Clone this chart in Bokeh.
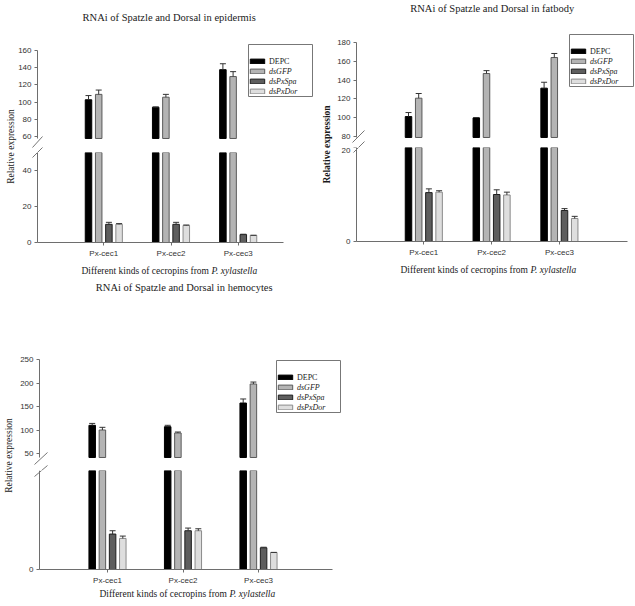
import math
from bokeh.plotting import figure
from bokeh.layouts import row, column
from bokeh.models import (ColumnDataSource, Range1d, FixedTicker, Label, Legend,
                          LegendItem, Arrow, LinearAxis, CDSView, BooleanFilter,
                          BoxAnnotation)
from bokeh.transform import dodge
from bokeh.embed import file_html
from bokeh.resources import INLINE

# ---------------- data ----------------
categories = ["Px-cec1", "Px-cec2", "Px-cec3"]
category_pos = [1, 2, 3]
series_labels = ["DEPC", "dsGFP", "dsPxSpa", "dsPxDor"]

epidermis_depc = [102.7, 94.0, 137.7]
epidermis_depc_err = [4.9, 0.4, 6.9]
epidermis_gfp = [109.0, 105.7, 129.7]
epidermis_gfp_err = [5.0, 3.3, 5.7]
epidermis_spa = [10.1, 10.1, 4.4]
epidermis_spa_err = [1.1, 1.1, 0.2]
epidermis_dor = [10.1, 9.5, 4.0]
epidermis_dor_err = [0.4, 0.2, 0.0]

fatbody_depc = [101.0, 99.6, 131.3]
fatbody_depc_err = [4.3, 0.4, 6.3]
fatbody_gfp = [120.6, 146.9, 164.0]
fatbody_gfp_err = [5.0, 3.1, 4.3]
fatbody_spa = [10.4, 10.0, 6.6]
fatbody_spa_err = [0.8, 1.0, 0.4]
fatbody_dor = [10.5, 9.9, 4.9]
fatbody_dor_err = [0.3, 0.6, 0.45]

hemocytes_depc = [110.0, 107.0, 157.4]
hemocytes_depc_err = [4.0, 3.0, 8.6]
hemocytes_gfp = [100.0, 93.6, 197.9]
hemocytes_gfp_err = [5.7, 2.1, 4.1]
hemocytes_spa = [7.16, 7.83, 4.39]
hemocytes_spa_err = [0.67, 0.54, 0.11]
hemocytes_dor = [6.28, 7.83, 3.45]
hemocytes_dor_err = [0.47, 0.40, 0.0]

epidermis_upper_ticks = [60, 80, 100, 120, 140, 160]
epidermis_lower_ticks = [0, 20, 40]
fatbody_upper_ticks = [80, 100, 120, 140, 160, 180]
fatbody_lower_ticks = [0, 20]
hemocytes_upper_ticks = [50, 100, 150, 200, 250]
hemocytes_lower_ticks = [0]

# ---------------- style ----------------
FILLS = ["#000000", "#b4b4b4", "#5e5e5e", "#dedede"]
LINES = ["#000000", "#5a5a5a", "#1e1e1e", "#8a8a8a"]
AXIS_COLOR = "#6e6e6e"
TEXT_COLOR = "#1a1a1a"
SERIF = "Liberation Serif"
SANS = "Liberation Sans"
BAR_PITCH_PX = 10.2
BAR_W_PX = 6.5
LEG_ROW = 10
LEG_PAD = 6
LEG_W = 64


def style_axis(ax):
    ax.axis_line_color = AXIS_COLOR
    ax.major_tick_line_color = AXIS_COLOR
    ax.major_tick_out = 3
    ax.major_tick_in = 0
    ax.minor_tick_line_color = None
    ax.major_label_text_font = SANS
    ax.major_label_text_font_size = "8px"
    ax.major_label_text_color = "#333333"
    ax.major_label_standoff = 3


def bare_fig(w, h, xr, yr):
    p = figure(width=w, height=h, x_range=xr, y_range=yr, title=None,
               toolbar_location=None, output_backend="svg",
               x_axis_location=None, y_axis_location=None, min_border=0,
               outline_line_color=None, background_fill_color="white",
               border_fill_color="white")
    p.grid.visible = False
    return p


def value_range(ref, page_lo, page_hi):
    (va, pa), (vb, pb) = ref
    s = (pa - pb) / (vb - va)
    return va + (pa - page_lo) / s, va + (pa - page_hi) / s


def make_panel(title, vals, errs, ticks_up, ticks_low, c):
    data = {"x": category_pos}
    for i in range(4):
        data["s%d" % i] = vals[i]
        data["s%d_hi" % i] = [v + e for v, e in zip(vals[i], errs[i])]
    src = ColumnDataSource(data)

    left, width = c["left"], c["width"]
    top, split, bottom = c["top"], c["split"], c["bottom"]
    pitch = c["pitch"]
    x0 = 1 - (c["pos1"] - left) / pitch
    xr = Range1d(x0, x0 + width / pitch)
    ax_lo = 1 + (c["axis_x"][0] - c["pos1"]) / pitch
    ax_hi = 1 + (c["axis_x"][1] - c["pos1"]) / pitch
    offs = [k * BAR_PITCH_PX / pitch for k in (-1.5, -0.5, 0.5, 1.5)]
    bw = BAR_W_PX / pitch

    up = bare_fig(width, split - top, xr, Range1d(*value_range(c["up_ref"], split, top)))
    low = bare_fig(width, bottom - split, xr, Range1d(*value_range(c["low_ref"], bottom, split)))

    up_lo, up_hi = c["up_bounds"]
    low_lo, low_hi = c["low_bounds"]

    yax_up = LinearAxis(fixed_location=ax_lo, bounds=(up_lo, up_hi),
                        ticker=FixedTicker(ticks=ticks_up))
    yax_low = LinearAxis(fixed_location=ax_lo, bounds=(low_lo, low_hi),
                         ticker=FixedTicker(ticks=ticks_low))
    xax = LinearAxis(fixed_location=0, bounds=(ax_lo, ax_hi),
                     ticker=FixedTicker(ticks=category_pos),
                     major_label_overrides={p: n for p, n in zip(category_pos, categories)})
    for ax in (yax_up, yax_low, xax):
        style_axis(ax)
    up.add_layout(yax_up, "left")
    low.add_layout(yax_low, "left")
    low.add_layout(xax, "below")

    keys = ["s0", "s1", "s2", "s3"]
    proxies = []
    for i, k in enumerate(keys):
        xt = dodge("x", offs[i])
        view = CDSView(filter=BooleanFilter(booleans=[v > up_lo for v in vals[i]]))
        up.vbar(x=xt, top=k, bottom=up_lo, width=bw, source=src, view=view,
                fill_color=FILLS[i], line_color=LINES[i], line_width=1)
        up.segment(x0=xt, y0=k, x1=xt, y1=k + "_hi", source=src, view=view,
                   line_color="#333333", line_width=1)
        up.scatter(x=xt, y=k + "_hi", marker="dash", size=6, source=src, view=view,
                   line_color="#333333", line_width=1)
        # hidden renderer used only for the legend swatch
        proxies.append(up.vbar(x=xt, top=k, bottom=up_lo, width=bw, source=src,
                               fill_color=FILLS[i], line_color=LINES[i],
                               line_width=1, visible=False))
        low.vbar(x=xt, top=k, bottom=0, width=bw, source=src,
                 fill_color=FILLS[i], line_color=LINES[i], line_width=1)
        low.segment(x0=xt, y0=k, x1=xt, y1=k + "_hi", source=src,
                    line_color="#333333", line_width=1)
        low.scatter(x=xt, y=k + "_hi", marker="dash", size=6, source=src,
                    line_color="#333333", line_width=1)

    # title
    tx, ty = c["title"]
    up.add_layout(Label(x=tx - left, y=split - ty, x_units="screen", y_units="screen",
                        text=title, text_align="center", text_baseline="middle",
                        text_font=SERIF, text_font_size="10.5px", text_color=TEXT_COLOR))
    # x axis label: normal + italic
    jx, jy = c["xlab"]
    low.add_layout(Label(x=jx - left - 2.5, y=bottom - jy, x_units="screen", y_units="screen",
                         text="Different kinds of cecropins from", text_align="right",
                         text_baseline="middle", text_font=SERIF,
                         text_font_size="9.5px", text_color=TEXT_COLOR))
    low.add_layout(Label(x=jx - left, y=bottom - jy, x_units="screen", y_units="screen",
                         text="P. xylastella", text_align="left",
                         text_baseline="middle", text_font=SERIF, text_font_style="italic",
                         text_font_size="9.5px", text_color=TEXT_COLOR))

    # axis break marks
    for fig, fbottom in ((up, split), (low, bottom)):
        for (px0, py0), (px1, py1) in c["breaks"]:
            fig.add_layout(Arrow(start=None, end=None,
                                 x_start=px0 - left, y_start=fbottom - py0,
                                 x_end=px1 - left, y_end=fbottom - py1,
                                 start_units="screen", end_units="screen",
                                 line_color="#777777", line_width=1))

    # legend: frame box + upright "DEPC" row + italic rows
    lx, ltop = c["legend"]
    box_bottom = ltop + 2 * LEG_PAD + 4 * LEG_ROW
    up.add_layout(BoxAnnotation(left=lx - left, right=lx - left + LEG_W,
                                top=split - ltop, bottom=split - box_bottom,
                                left_units="screen", right_units="screen",
                                top_units="screen", bottom_units="screen",
                                fill_color="white", fill_alpha=1.0,
                                line_color="#777777", line_width=1, line_alpha=1.0))
    common = dict(padding=LEG_PAD, spacing=0, margin=0,
                  glyph_width=18, glyph_height=6, label_height=LEG_ROW,
                  label_standoff=3, label_text_font=SERIF,
                  label_text_font_size="8px", label_text_color="#222222",
                  border_line_color=None, background_fill_alpha=0.0)
    legA = Legend(items=[LegendItem(label=series_labels[0], renderers=[proxies[0]])],
                  location=(lx - left, split - (ltop + 2 * LEG_PAD + LEG_ROW)),
                  label_text_font_style="normal", **common)
    legB = Legend(items=[LegendItem(label=series_labels[j], renderers=[proxies[j]])
                         for j in (1, 2, 3)],
                  location=(lx - left, split - box_bottom),
                  label_text_font_style="italic", **common)
    up.add_layout(legA)
    up.add_layout(legB)

    # y axis label in a narrow strip to the left
    lab = bare_fig(c["ylab_w"], bottom - top, Range1d(0, 1), Range1d(0, 1))
    yx, yy = c["ylab"]
    lab.add_layout(Label(x=yx, y=bottom - yy, x_units="screen", y_units="screen",
                         text="Relative expression", angle=math.pi / 2,
                         text_align="center", text_baseline="middle",
                         text_font=SERIF, text_font_style=c["ylab_style"],
                         text_font_size="9.5px", text_color=TEXT_COLOR))
    return row(lab, column(up, low))


cfg_epi = dict(left=17, width=301, ylab_w=17, ylab=(10, 146), ylab_style="normal",
               top=0, split=152, bottom=280,
               up_ref=((60, 136), (160, 50)), low_ref=((0, 242), (40, 170)),
               up_bounds=(57.7, 160), low_bounds=(0, 50),
               pos1=103.3, pitch=67.2, axis_x=(37, 283),
               title=(170, 17), xlab=(211, 270), legend=(248, 44),
               breaks=[((32, 147), (42, 136)), ((32, 157), (42, 147))])

cfg_fat = dict(left=334, width=300, ylab_w=16, ylab=(8, 144), ylab_style="bold",
               top=0, split=147, bottom=280,
               up_ref=((100, 117), (180, 42)), low_ref=((0, 241), (20, 147)),
               up_bounds=(78.7, 180), low_bounds=(0, 20),
               pos1=423.3, pitch=67.8, axis_x=(356, 627),
               title=(493, 8), xlab=(530, 269), legend=(569, 34),
               breaks=[((352, 142), (364, 130)), ((353, 152), (364, 141))])

cfg_hem = dict(left=17, width=333, ylab_w=17, ylab=(8, 455), ylab_style="normal",
               top=280, split=470, bottom=605,
               up_ref=((50, 453), (250, 359)), low_ref=((0, 569), (20, 470)),
               up_bounds=(41.5, 250), low_bounds=(0, 20),
               pos1=107, pitch=75.5, axis_x=(39, 332),
               title=(185, 287), xlab=(229, 593), legend=(276, 360),
               breaks=[((34, 464), (47, 452)), ((34, 476), (47, 465))])

panel_epi = make_panel("RNAi of  Spatzle and Dorsal in epidermis",
                       [epidermis_depc, epidermis_gfp, epidermis_spa, epidermis_dor],
                       [epidermis_depc_err, epidermis_gfp_err, epidermis_spa_err, epidermis_dor_err],
                       epidermis_upper_ticks, epidermis_lower_ticks, cfg_epi)
panel_fat = make_panel("RNAi of  Spatzle and Dorsal in fatbody",
                       [fatbody_depc, fatbody_gfp, fatbody_spa, fatbody_dor],
                       [fatbody_depc_err, fatbody_gfp_err, fatbody_spa_err, fatbody_dor_err],
                       fatbody_upper_ticks, fatbody_lower_ticks, cfg_fat)
panel_hem = make_panel("RNAi of  Spatzle and Dorsal in hemocytes",
                       [hemocytes_depc, hemocytes_gfp, hemocytes_spa, hemocytes_dor],
                       [hemocytes_depc_err, hemocytes_gfp_err, hemocytes_spa_err, hemocytes_dor_err],
                       hemocytes_upper_ticks, hemocytes_lower_ticks, cfg_hem)

layout = column(row(panel_epi, panel_fat), panel_hem)

open("out.html", "w").write(file_html(layout, INLINE))
